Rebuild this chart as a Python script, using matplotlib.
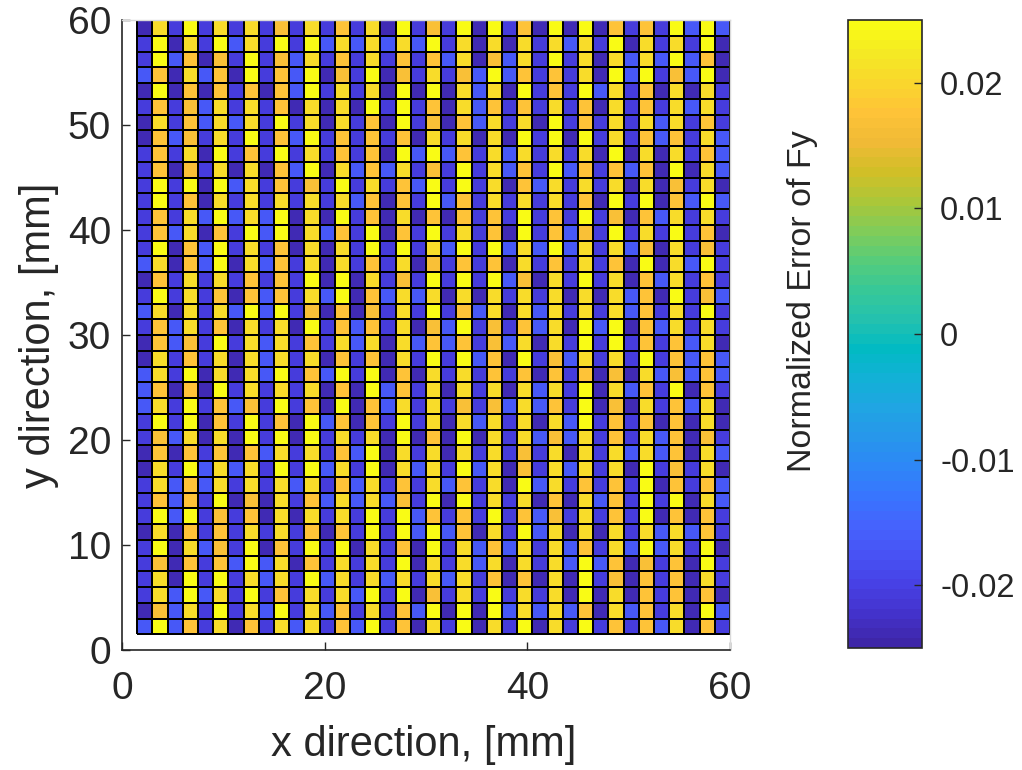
import numpy as np
import matplotlib
matplotlib.use("Agg")
import matplotlib.pyplot as plt
from matplotlib.colors import LinearSegmentedColormap

plt.rcParams['font.family'] = ['Liberation Sans', 'DejaVu Sans']

# Grid nodes (mm) of the measurement area
x_mm = np.linspace(1.5, 60, 40)
y_mm = np.linspace(1.5, 60, 40)

# Error levels per cell, one letter per cell; rows listed from top (y = 60) to bottom
level_values = {'D': -0.0238, 'B': -0.0205, 'L': -0.0165,
                'E': 0.0165, 'O': 0.0178, 'G': 0.0210, 'Y': 0.0245}

rows_left = [
    "DGBYBGBGBEBGBOBGDYBE", "BYDGBYLGBYBYLGLGLGLY", "BYLODEBYBELGBOBGBOBO",
    "LODGLODYBOLYDEBYDEBG", "DYDODOBODOLYBGBGDYDY", "BOBELGBGBODGDGDYBYBO",
    "DGBOLGLGBYBGDGBODYBE", "DOLEBGBYBOLYBOBOBODG", "BOBGDYBOBYBGBOBODYLY",
    "BODEBGDGDOLYDGLOLGBE", "BYBYDYLGBOBEBYBGBOLY", "BYBODGBGBGBGBGLODOBY",
    "BOBGLYLGLYDGDYBODGDO", "BOLGDOBYLYDGLOBYDOBY", "BYDOLYBGBODGDGBYBYBG",
    "LGDOLYDGLOBGDGBOBGDE", "DOBGBGBOBOBYDYDGBEBY", "BYBGBODOLOBGLYDOLGLG",
    "LGDGBGLYLYBEDODEBGBY", "BOLGBODGBGDYBOLOBGDE", "DOLEBYBGLGBOBGLGDGLO",
    "DGBOBGDGLGBGDOBODGBY", "LGBYDGDGLYBOLYBYDODG", "LODODYBGBGBGDODYLOBG",
    "LGBYBOLEBYBODYDOLGBG", "BYBYDOBYBODYLODOBYBG", "BELGDGDYBYDYBGBGDYDO",
    "DODOBODOLGBGBOLYDGBG", "DGBYLGLGBYBYLGBYDGLG", "BGLOLGBGBGLGBOLGBOBG",
    "BOLOBYDEDGBOLGLGLEBY", "BYLYBEBODGDGBGBYBYLO", "DGDOBOBGBGBODOBYBYLY",
    "BYDGLEBYDOBYBYDGBODY", "BEDOBOLYLGDOBGBGBYDG", "BGDYBYBGLGBYLGBGLGBG",
    "BGLYLGBYBOBGBGLYBYDE", "DELGBYBGLYBGLOBGBOLY", "LYLOBGDOBGLGBOLYBODG",
]
rows_right = [
    "BYDYBODYDYDOBOBYLYL", "BGDGDGBGLGBYDGBGBYD", "LGDELGBYBGDGLGLYLOD",
    "BELYLOBOBGDYLYBELYD", "DGLGDYBOBYLGBODGDGB", "DGLOBOBGBODGBOBGLGB",
    "DOLGBGDYBOBGBGLGBOB", "BGDGDYBYDYBGBOLOBGL", "LOBGLGBGBGDYDGDGBOL",
    "BYBGLOBYLOBOLODYDGL", "BYBGDOLGBGBGDGDEBGD", "LOBGBGBGBODYBYDOLYL",
    "DOBOBYBOBYBEDOLGBGB", "BGBODYBOLEBYBGBYBOD", "LYBYLGLYLGBGLEDGBEB",
    "BOBODGBOBGBODYDGLYB", "BYBYLEDGBYBGDOLGBOB", "DGDGBGBGDGDGLODYBEL",
    "BOLGDGLGBGBGLOBGBYB", "LYBEBOLGDYLYDOLGBGB", "LOBELGDGBYBYBOBOLGD",
    "BYLODYBELGBGBYBOLOL", "BGBOBODOBODEDGLELOL", "DGBGDGLGBYDGLOBYDOB",
    "BEBELGLOBYDEDGBOLGD", "DGLGBGDGLYBOBODODGD", "DYDGBGLELGBOBGLODEB",
    "DGBGBEBGDGBGLGLODGL", "BYLGDEBGLGBGDYBEBGD", "LOBGDYLGBOBOBYDOBOL",
    "DYBGBGDODGLOBYBYDGL", "BOBYBOLEBGBOBYDODOB", "LODGBYLGDGDGBGLGLOB",
    "BGLOLGBGLOBGLYLGBYD", "BGLGDGBGLYLODEBODYB", "LGBODODGDYBEDOBODGB",
    "BGBYBGBGDYDGDOBODOD", "DYDYLGLGLODGLOBGDYL", "BYDGBYDGBYBOBOLGDOB",
]

x_ticks = [0, 20, 40, 60]
y_ticks = [0, 10, 20, 30, 40, 50, 60]
cbar_ticks = [-0.02, -0.01, 0, 0.01, 0.02]
cbar_ticklabels = ['-0.02', '-0.01', '0', '0.01', '0.02']
x_label = 'x direction, [mm]'
y_label = 'y direction, [mm]'
cbar_label = 'Normalized Error of Fy'

# parula-like colormap
parula_pts = [
    (0.2422, 0.1504, 0.6603), (0.2647, 0.1978, 0.7952), (0.2783, 0.2559, 0.8991),
    (0.2810, 0.3228, 0.9579), (0.2699, 0.3892, 0.9906), (0.2206, 0.4603, 0.9973),
    (0.1786, 0.5289, 0.9682), (0.1540, 0.5902, 0.9218), (0.1248, 0.6459, 0.8883),
    (0.0689, 0.6948, 0.8394), (0.0067, 0.7312, 0.7660), (0.1408, 0.7584, 0.6842),
    (0.2161, 0.7843, 0.5923), (0.3406, 0.8008, 0.4789), (0.5044, 0.7993, 0.3480),
    (0.6720, 0.7793, 0.2227), (0.8203, 0.7498, 0.1535), (0.9393, 0.7288, 0.2100),
    (0.9970, 0.7659, 0.2199), (0.9786, 0.8386, 0.1766), (0.9597, 0.9135, 0.1423),
    (0.9769, 0.9839, 0.0805),
]
parula = LinearSegmentedColormap.from_list('parula', parula_pts, N=64)

rows = [l + r for l, r in zip(rows_left, rows_right)]
C = np.array([[level_values[ch] for ch in row] for row in rows])[::-1]

fig = plt.figure(figsize=(10.22, 7.70), dpi=100)
ax = fig.add_axes([122 / 1022, 120 / 770, 608 / 1022, 630 / 770])
mesh = ax.pcolormesh(x_mm, y_mm, C, cmap=parula, vmin=-0.025, vmax=0.025,
                     edgecolors='k', linewidth=1.2)
ax.set_xlim(0, 60)
ax.set_ylim(0, 60)
ax.set_xticks(x_ticks)
ax.set_yticks(y_ticks)
ax.tick_params(direction='in', length=6, width=1.0, colors='#262626',
               labelsize=28)
ax.tick_params(axis='x', pad=15)
ax.tick_params(axis='y', pad=8)
for side in ('left', 'bottom'):
    ax.spines[side].set_color('#262626')
    ax.spines[side].set_linewidth(1.2)
for side in ('top', 'right'):
    ax.spines[side].set_color('#d9d9d9')
    ax.spines[side].set_linewidth(1.0)
ax.set_xlabel(x_label, fontsize=30, color='#262626')
ax.set_ylabel(y_label, fontsize=30, color='#262626')
ax.xaxis.set_label_coords(0.497, -0.119)
ax.yaxis.set_label_coords(-0.104, 0.5)

cax = fig.add_axes([848 / 1022, 122 / 770, 74 / 1022, 628 / 770])
cb = fig.colorbar(mesh, cax=cax, ticks=cbar_ticks)
cb.ax.set_yticklabels(cbar_ticklabels)
cb.ax.tick_params(direction='in', length=6, width=1.0, colors='#262626',
                  labelsize=23.5, pad=13)
cb.outline.set_edgecolor('#262626')
cb.outline.set_linewidth(1.2)
cb.ax.yaxis.set_label_position('left')
cb.set_label(cbar_label, fontsize=24.5, color='#262626')
cb.ax.yaxis.set_label_coords(-0.41, 0.553)

fig.savefig('out.png', dpi=100)
